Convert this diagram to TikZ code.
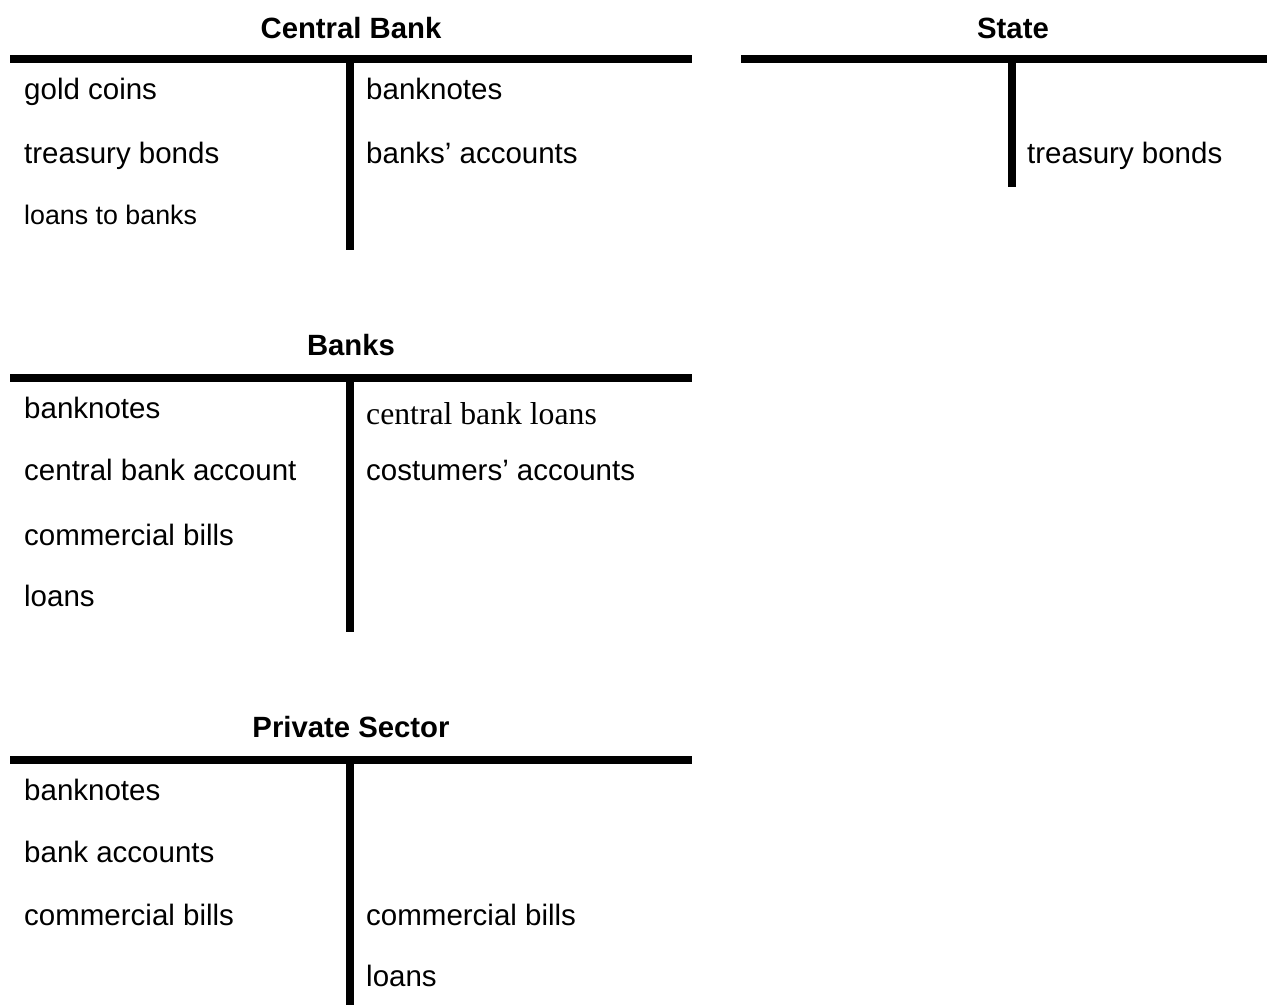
\documentclass[tikz,border=0pt]{standalone}
\usepackage{fontspec}
\setmainfont{Liberation Sans}
\newfontfamily\seriffont{Liberation Serif}
\usepackage{tikz}
\usetikzlibrary{positioning}

\tikzset{
	bar/.style={line width=7.5pt},
	acctitle/.style={anchor=base, inner sep=0pt, font=\fontsize{29.3}{35}\selectfont\bfseries},
	entrytext/.style={anchor=base west, inner sep=0pt, font=\fontsize{29.5}{35}\selectfont},
}

\begin{document}
\begin{tikzpicture}[x=1pt,y=-1pt]
	\useasboundingbox (0,0) rectangle (1267,1005);

	% Central Bank
	\node[acctitle] (cbtitle) at (351,38) {Central Bank};
	\coordinate (cbL) at (10,59);
	\coordinate (cbR) at (692,59);
	\coordinate (cbT) at (350,59);
	\coordinate (cbB) at (350,250);
	\draw[bar] (cbL) -- (cbR);
	\draw[bar] (cbT) -- (cbB);
	\foreach \y/\txt [count=\i] in {99/{gold coins}, 163/{treasury bonds}}{
		\node[entrytext] (cbl\i) at (24,\y) {\txt};
	}
	\node[entrytext, font=\fontsize{26.8}{32}\selectfont] (cbl3) at (24,224) {loans to banks};
	\foreach \y/\txt [count=\i] in {99/{banknotes}, 163/{banks’ accounts}}{
		\node[entrytext] (cbr\i) at (366,\y) {\txt};
	}

	% State
	\node[acctitle] (sttitle) at (1013,38) {State};
	\coordinate (stL) at (741,59);
	\coordinate (stR) at (1267,59);
	\coordinate (stT) at (1012,59);
	\coordinate (stB) at (1012,187);
	\draw[bar] (stL) -- (stR);
	\draw[bar] (stT) -- (stB);
	\node[entrytext] (str1) at (1027,163) {treasury bonds};

	% Banks
	\node[acctitle] (bktitle) at (351,355) {Banks};
	\coordinate (bkL) at (10,378);
	\coordinate (bkR) at (692,378);
	\coordinate (bkT) at (350,378);
	\coordinate (bkB) at (350,632);
	\draw[bar] (bkL) -- (bkR);
	\draw[bar] (bkT) -- (bkB);
	\foreach \y/\txt [count=\i] in {
		418/{banknotes},
		480/{central bank account},
		545/{commercial bills},
		606/{loans}
	}{
		\node[entrytext] (bkl\i) at (24,\y) {\txt};
	}
	\node[entrytext, font=\seriffont\fontsize{31.7}{38}\selectfont] (bkr1) at (366,424) {central bank loans};
	\node[entrytext] (bkr2) at (366,480) {costumers’ accounts};

	% Private Sector
	\node[acctitle] (pstitle) at (351,737) {Private Sector};
	\coordinate (psL) at (10,760);
	\coordinate (psR) at (692,760);
	\coordinate (psT) at (350,760);
	\coordinate (psB) at (350,1005);
	\draw[bar] (psL) -- (psR);
	\draw[bar] (psT) -- (psB);
	\foreach \y/\txt [count=\i] in {
		800/{banknotes},
		862/{bank accounts},
		925/{commercial bills}
	}{
		\node[entrytext] (psl\i) at (24,\y) {\txt};
	}
	\foreach \y/\txt [count=\i] in {925/{commercial bills}, 986/{loans}}{
		\node[entrytext] (psr\i) at (366,\y) {\txt};
	}
\end{tikzpicture}
\end{document}
